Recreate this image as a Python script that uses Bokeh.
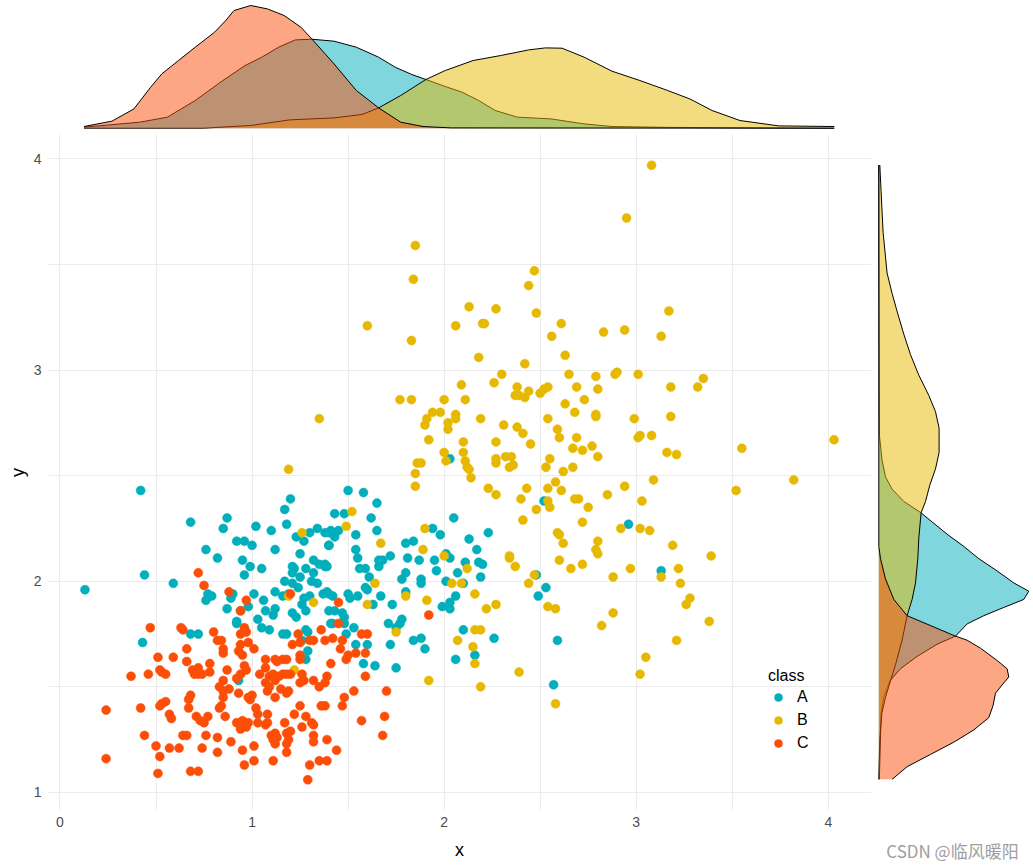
import numpy as np
from bokeh.plotting import figure
from bokeh.layouts import column, row
from bokeh.models import Range1d, FixedTicker, Legend, LegendItem
from bokeh.core.properties import value
from bokeh.embed import file_html
from bokeh.resources import INLINE

# ---------------- data ----------------
classes = ["A", "B", "C"]
colors = {"A": "#00AFBB", "B": "#E7B800", "C": "#FC4E07"}

A_x = [0.42, 1.20, 1.17, 0.87, 0.68, 0.85, 1.02, 1.10, 1.18, 1.30, 1.23, 1.27, 1.34, 1.38, 1.41, 0.92, 0.96, 1.00,
       0.76, 0.82, 0.95, 1.12, 1.25, 1.40, 0.99, 1.05, 0.96, 1.21, 1.22, 1.32, 1.35, 1.38, 1.39, 1.28, 1.32, 1.21,
       1.25, 0.44, 0.59, 1.17, 1.21, 1.31, 1.34, 0.13, 0.43, 0.77, 0.79, 0.76, 0.68, 0.72, 0.89, 0.90, 0.87, 1.01,
       1.06, 1.12, 0.92, 0.92, 0.94, 0.98, 1.03, 1.07, 1.12, 1.11, 1.05, 1.09, 1.16, 1.18, 1.16, 1.19, 1.24, 1.27,
       1.26, 1.30, 1.21, 1.23, 1.28, 1.28, 1.29, 1.26, 1.29, 1.28, 1.37, 1.39, 1.41, 0.93, 1.40,
       2.03, 1.50, 1.58, 1.65, 1.43, 1.48, 1.62, 2.05, 2.23, 2.52, 1.40, 1.43, 1.45, 1.43, 1.54, 1.65, 1.94, 1.98,
       1.40, 1.84, 1.80, 2.13, 2.17, 1.54, 1.55, 1.72, 1.81, 1.87, 1.95, 2.03, 2.01, 2.11, 2.18, 2.20, 1.38, 1.66,
       1.68, 1.66, 1.56, 1.59, 1.96, 2.07, 2.19, 1.61, 1.80, 1.78, 1.88, 1.88, 2.01, 2.10, 2.48, 2.96, 3.13,
       1.40, 1.42, 1.50, 1.51, 1.55, 1.59, 1.60, 1.67, 1.63, 1.73, 1.80, 1.43, 1.47, 1.48, 1.42, 1.48, 1.53, 1.49,
       1.71, 1.78, 1.77, 1.75, 1.54, 1.60, 1.72, 1.84, 1.88, 1.90, 1.58, 1.64, 1.75, 1.99, 2.03, 2.03, 2.06, 2.10,
       2.06, 2.16, 2.26, 2.49, 2.53, 2.59, 2.57]
A_y = [2.43, 2.39, 2.34, 2.30, 2.28, 2.25, 2.26, 2.24, 2.27, 2.23, 2.21, 2.19, 2.25, 2.23, 2.24, 2.19, 2.19, 2.17,
       2.15, 2.11, 2.10, 2.15, 2.13, 2.17, 2.07, 2.06, 2.03, 2.07, 2.06, 2.10, 2.08, 2.08, 2.07, 2.06, 2.04, 2.04,
       2.02, 2.03, 1.99, 2.00, 1.99, 2.00, 1.99, 1.96, 1.71, 1.94, 1.93, 1.91, 1.75, 1.75, 1.92, 1.94, 1.87, 1.94,
       1.91, 1.95, 1.81, 1.80, 1.86, 1.88, 1.82, 1.86, 1.87, 1.84, 1.78, 1.77, 1.75, 1.75, 1.93, 1.94, 1.97, 1.92,
       1.89, 1.93, 1.85, 1.83, 1.86, 1.77, 1.76, 1.72, 1.67, 1.63, 1.94, 1.95, 1.80, 1.53, 1.86,
       2.58, 2.43, 2.42, 2.37, 2.32, 2.32, 2.30, 2.30, 2.23, 2.38, 2.23, 2.23, 2.24, 2.21, 2.22, 2.24, 2.25, 2.22,
       2.17, 2.19, 2.18, 2.20, 2.15, 2.15, 2.11, 2.12, 2.11, 2.10, 2.10, 2.11, 2.13, 2.09, 2.09, 2.08, 2.07, 2.10,
       2.10, 2.07, 2.06, 2.06, 2.05, 2.04, 2.02, 2.02, 2.04, 2.01, 2.01, 1.99, 2.00, 1.99, 2.03, 2.27, 2.05,
       1.94, 1.93, 1.94, 1.92, 1.93, 1.97, 1.96, 1.93, 1.89, 1.89, 1.95, 1.86, 1.85, 1.83, 1.80, 1.80, 1.78, 1.75,
       1.80, 1.82, 1.80, 1.78, 1.70, 1.70, 1.70, 1.72, 1.73, 1.68, 1.61, 1.60, 1.59, 1.88, 1.87, 1.90, 1.93, 1.77,
       1.63, 1.65, 1.73, 1.93, 1.97, 1.72, 1.51]

B_x = [1.85, 1.84, 1.60, 1.83, 2.47, 2.44, 2.13, 2.27, 2.48, 2.06, 2.20, 2.21, 2.61, 2.56, 2.63, 2.18, 2.42, 3.08,
       2.95, 3.17, 2.83, 2.94, 3.13, 1.35, 1.19, 1.26, 2.30, 2.26, 2.09, 2.38, 2.44, 2.37, 2.39, 2.42, 2.50, 2.52,
       2.54, 2.65, 2.69, 2.79, 2.80, 1.77, 1.83, 2.00, 2.11, 2.63, 2.73, 2.68, 2.79, 2.79, 1.94, 1.98, 1.91, 1.90,
       2.06, 2.06, 2.02, 2.02, 2.19, 2.31, 2.38, 2.41, 2.54, 2.59, 2.60, 2.69, 2.67, 2.72, 2.77, 2.80, 2.45, 2.27,
       1.92, 2.10, 2.00, 2.10, 2.01, 2.11, 2.12, 2.13, 2.14, 2.27, 2.27, 2.32, 2.35, 2.34, 2.36, 2.55, 2.53, 2.62,
       2.67, 1.86, 1.88, 1.85, 1.85, 2.23, 2.27, 2.43, 2.40, 2.54, 2.58, 2.61, 2.54, 2.55, 2.48, 2.68, 2.70, 2.75,
       2.41, 2.72, 2.59, 2.60, 2.62, 2.60, 2.66, 2.72, 2.79, 2.80, 2.80, 2.34, 2.34, 2.37, 2.47, 2.44, 1.52, 1.49,
       1.90, 1.67, 1.89, 2.00, 2.12, 1.64, 2.04, 2.09, 2.89, 2.90, 3.01, 3.18, 3.32, 3.35, 2.99, 3.18, 3.02, 3.01,
       3.08, 3.16, 3.21, 3.55, 4.03, 3.09, 2.94, 2.85, 3.03, 3.52, 3.82, 2.92, 3.02, 3.07, 3.19, 3.39, 2.97, 2.88,
       3.22, 3.13, 3.23, 3.28, 3.26, 2.88, 2.82, 3.38, 3.21, 3.05, 3.02, 1.80, 1.60, 1.91, 2.16, 2.22, 2.27, 2.54,
       2.58, 1.75, 2.07, 2.16, 2.19, 2.15, 2.16, 2.39, 1.92, 2.19, 2.58, 1.22, 1.32, 1.19]
B_y = [3.59, 3.43, 3.21, 3.14, 3.47, 3.40, 3.30, 3.29, 3.27, 3.21, 3.22, 3.22, 3.22, 3.16, 3.07, 3.06, 3.03, 3.97,
       3.72, 3.28, 3.18, 3.19, 3.16, 2.77, 2.53, 2.23, 2.98, 2.94, 2.93, 2.92, 2.90, 2.88, 2.88, 2.87, 2.89, 2.91,
       2.92, 2.98, 2.92, 2.97, 2.91, 2.86, 2.86, 2.86, 2.86, 2.84, 2.86, 2.80, 2.79, 2.78, 2.80, 2.80, 2.77, 2.74,
       2.79, 2.77, 2.75, 2.72, 2.77, 2.74, 2.73, 2.70, 2.77, 2.72, 2.68, 2.68, 2.63, 2.62, 2.64, 2.59, 2.65, 2.66,
       2.67, 2.66, 2.61, 2.61, 2.57, 2.57, 2.54, 2.53, 2.49, 2.58, 2.56, 2.59, 2.59, 2.54, 2.55, 2.58, 2.54, 2.52,
       2.54, 2.56, 2.56, 2.51, 2.45, 2.44, 2.41, 2.44, 2.39, 2.44, 2.47, 2.43, 2.38, 2.35, 2.34, 2.39, 2.39, 2.35,
       2.29, 2.28, 2.23, 2.22, 2.18, 2.10, 2.06, 2.08, 2.15, 2.13, 2.19, 2.11, 2.12, 2.07, 2.03, 1.99, 2.33, 2.26,
       2.25, 2.18, 2.15, 2.12, 2.06, 1.99, 1.99, 1.99, 2.98, 2.99, 2.98, 2.92, 2.92, 2.96, 2.77, 2.78, 2.69, 2.68,
       2.69, 2.61, 2.60, 2.63, 2.67, 2.48, 2.45, 2.41, 2.38, 2.43, 2.48, 2.25, 2.25, 2.24, 2.17, 2.12, 2.06, 2.02,
       2.06, 2.02, 1.99, 1.92, 1.89, 1.85, 1.79, 1.81, 1.72, 1.64, 1.56, 1.93, 1.89, 1.91, 1.94, 1.87, 1.89, 1.88,
       1.87, 1.76, 1.72, 1.77, 1.77, 1.69, 1.61, 1.57, 1.53, 1.50, 1.42, 1.58, 1.90, 1.93]

C_x = [0.72, 0.75, 0.88, 0.97, 0.94, 1.20, 0.47, 0.63, 0.64, 0.80, 0.82, 0.84, 0.96, 0.94, 0.97, 0.98, 0.66, 0.51,
       0.59, 0.66, 0.78, 0.85, 0.85, 0.94, 0.93, 0.95, 1.01, 1.07, 0.52, 0.53, 0.55, 0.46, 0.37, 0.69, 0.72, 0.72,
       0.70, 0.74, 0.78, 0.87, 0.96, 0.97, 0.94, 0.92, 1.04, 1.07, 1.09, 1.11, 1.12, 1.14, 1.16, 1.12, 1.13, 1.16,
       1.18, 1.18, 1.20, 1.07, 1.09, 1.08, 1.15, 1.18, 1.19, 1.21, 1.25, 1.24, 1.25, 1.25, 1.26, 1.27, 1.25, 1.30,
       1.32, 1.36, 1.38, 1.41, 1.32, 1.35, 1.39, 1.38, 0.85, 0.83, 0.85, 0.88, 0.93, 0.85, 0.68, 0.67, 0.53, 0.55,
       0.52, 0.42, 0.24, 0.67, 0.83, 0.84, 0.57, 0.58, 0.71, 0.73, 0.75, 0.77, 0.86, 0.92, 0.95, 0.98, 0.94, 0.97,
       0.99, 1.00, 0.98, 1.02, 1.03, 1.03, 1.08, 1.08, 1.07, 1.12, 1.17, 1.22, 1.25, 1.26, 1.28, 1.31, 1.32, 1.32,
       1.32, 1.36, 1.38, 1.39, 1.10, 1.12, 1.11, 1.12, 1.13, 1.18, 1.20, 1.19, 1.18, 1.18, 1.11, 1.01, 1.01, 0.95,
       0.96, 0.89, 0.82, 0.82, 0.76, 0.74, 0.64, 0.66, 0.57, 0.62, 0.50, 0.52, 0.44, 0.24, 0.51, 0.68, 0.72, 1.29,
       1.30, 1.35, 1.39, 1.45, 1.92, 1.45, 1.57, 1.60, 1.42, 1.47, 1.46, 1.50, 1.54, 1.59, 1.49, 1.59, 1.53, 1.70,
       1.48, 1.47, 1.69, 1.57, 1.68, 1.44]
C_y = [2.04, 1.98, 1.95, 1.91, 1.86, 1.94, 1.78, 1.78, 1.77, 1.76, 1.72, 1.72, 1.78, 1.75, 1.76, 1.71, 1.68, 1.64,
       1.64, 1.62, 1.61, 1.68, 1.66, 1.70, 1.67, 1.65, 1.68, 1.63, 1.58, 1.57, 1.56, 1.56, 1.55, 1.58, 1.59, 1.56,
       1.56, 1.56, 1.57, 1.58, 1.60, 1.58, 1.56, 1.54, 1.56, 1.59, 1.55, 1.56, 1.53, 1.55, 1.56, 1.63, 1.62, 1.63,
       1.63, 1.56, 1.56, 1.52, 1.50, 1.48, 1.49, 1.47, 1.48, 1.70, 1.71, 1.75, 1.65, 1.63, 1.56, 1.53, 1.52, 1.72,
       1.72, 1.77, 1.72, 1.61, 1.53, 1.50, 1.55, 1.52, 1.53, 1.50, 1.48, 1.49, 1.47, 1.45, 1.46, 1.44, 1.42, 1.43,
       1.41, 1.40, 1.39, 1.40, 1.40, 1.41, 1.37, 1.35, 1.36, 1.34, 1.33, 1.36, 1.36, 1.33, 1.34, 1.33, 1.30, 1.31,
       1.44, 1.46, 1.45, 1.40, 1.37, 1.33, 1.37, 1.33, 1.32, 1.45, 1.33, 1.37, 1.41, 1.31, 1.36, 1.33, 1.32, 1.27,
       1.24, 1.41, 1.41, 1.25, 1.27, 1.28, 1.25, 1.23, 1.26, 1.28, 1.29, 1.25, 1.23, 1.19, 1.15, 1.22, 1.15, 1.20,
       1.13, 1.24, 1.26, 1.19, 1.27, 1.21, 1.27, 1.27, 1.21, 1.21, 1.22, 1.17, 1.27, 1.16, 1.09, 1.10, 1.10, 1.06,
       1.13, 1.15, 1.15, 1.90, 1.84, 1.80, 1.75, 1.75, 1.73, 1.72, 1.68, 1.65, 1.66, 1.66, 1.63, 1.55, 1.48, 1.48,
       1.45, 1.41, 1.36, 1.34, 1.27, 1.20]

# marginal densities
dx_A_x = [0.125, 0.415, 0.559, 0.704, 0.848, 0.964, 1.051, 1.138, 1.225, 1.311, 1.427, 1.543, 1.659, 1.745, 1.832,
          1.905, 2.006, 2.093, 2.180, 2.266, 2.382, 2.556, 2.729, 2.874, 3.164, 4.031]
dx_A_d = [0.010, 0.060, 0.110, 0.277, 0.477, 0.627, 0.710, 0.810, 0.883, 0.890, 0.870, 0.810, 0.710, 0.610, 0.537,
          0.487, 0.417, 0.360, 0.277, 0.177, 0.110, 0.093, 0.043, 0.017, 0.008, 0.0]
dx_B_x = [0.125, 0.747, 0.993, 1.196, 1.427, 1.572, 1.659, 1.774, 1.905, 2.006, 2.151, 2.295, 2.440, 2.527, 2.614,
          2.729, 2.874, 3.019, 3.164, 3.279, 3.395, 3.540, 3.742, 4.031]
dx_B_d = [0.0, 0.0, 0.027, 0.083, 0.103, 0.137, 0.203, 0.327, 0.487, 0.577, 0.677, 0.727, 0.783, 0.803, 0.800,
          0.710, 0.570, 0.477, 0.377, 0.293, 0.177, 0.077, 0.023, 0.017]
dx_C_x = [0.125, 0.270, 0.385, 0.472, 0.530, 0.617, 0.704, 0.805, 0.863, 0.906, 0.993, 1.080, 1.167, 1.254, 1.311,
          1.427, 1.543, 1.659, 1.774, 1.890, 2.035, 4.031]
dx_C_d = [0.017, 0.070, 0.193, 0.410, 0.543, 0.677, 0.810, 0.960, 1.077, 1.177, 1.227, 1.193, 1.127, 1.010, 0.893,
          0.643, 0.377, 0.203, 0.060, 0.017, 0.003, 0.0]

dy_A_y = [3.971, 2.687, 2.571, 2.494, 2.436, 2.378, 2.324, 2.281, 2.223, 2.165, 2.107, 2.049, 1.992, 1.953, 1.914,
          1.876, 1.837, 1.798, 1.740, 1.702, 1.644, 1.586, 1.528, 1.451, 1.374, 1.142, 1.062]
dy_A_d = [0.0, 0.007, 0.033, 0.067, 0.133, 0.250, 0.423, 0.533, 0.683, 0.850, 1.000, 1.183, 1.350, 1.500, 1.450,
          1.250, 1.050, 0.883, 0.767, 0.583, 0.383, 0.217, 0.110, 0.050, 0.023, 0.010, 0.005]
dy_B_y = [3.971, 3.845, 3.652, 3.459, 3.363, 3.266, 3.170, 3.073, 2.976, 2.880, 2.803, 2.725, 2.610, 2.532, 2.455,
          2.378, 2.324, 2.204, 2.107, 1.992, 1.914, 1.837, 1.721, 1.605, 1.528, 1.451, 1.374, 1.250, 1.062]
dy_B_d = [0.010, 0.023, 0.043, 0.083, 0.133, 0.190, 0.250, 0.317, 0.400, 0.500, 0.567, 0.603, 0.603, 0.567, 0.510,
          0.467, 0.423, 0.400, 0.390, 0.367, 0.333, 0.283, 0.233, 0.167, 0.117, 0.067, 0.030, 0.010, 0.0]
dy_C_y = [3.971, 2.165, 2.107, 2.011, 1.914, 1.837, 1.740, 1.721, 1.683, 1.625, 1.586, 1.547, 1.509, 1.470, 1.412,
          1.354, 1.296, 1.238, 1.180, 1.122, 1.062]
dy_C_d = [0.0, 0.0, 0.017, 0.067, 0.150, 0.283, 0.767, 0.883, 1.017, 1.183, 1.283, 1.300, 1.233, 1.167, 1.143,
          1.100, 0.950, 0.750, 0.517, 0.283, 0.133]

x_ticks = [0, 1, 2, 3, 4]
x_minor = [0.5, 1.5, 2.5, 3.5]
y_ticks = [1, 2, 3, 4]
y_minor = [1.5, 2.5, 3.5]
legend_title = "class"
x_label = "x"
y_label = "y"
watermark = "CSDN @临风暖阳"

# ---------------- layout constants (page origin is 0,0) ----------------
LEFT = 47
FRAME_W = 824
FRAME_H = 676
BOTTOM = 49
TOP_H = 134
TOP_BASE = 6.3      # px between top-marginal baseline and its frame bottom
RIGHT_W = 162
RIGHT_BASE = 7.3    # px between right-marginal baseline and its frame left
DENS_PX = 100.0     # px per density unit in both marginals
FONT = "Liberation Sans"
GRID = "#EBEBEB"

pts = {"A": (A_x, A_y), "B": (B_x, B_y), "C": (C_x, C_y)}
all_x = A_x + B_x + C_x
all_y = A_y + B_y + C_y
xpad = 0.05 * (max(all_x) - min(all_x))
ypad = 0.05 * (max(all_y) - min(all_y))
x_range = Range1d(min(all_x) - xpad, max(all_x) + xpad)
y_range = Range1d(min(all_y) - ypad, max(all_y) + ypad)

# ---------------- main scatter ----------------
p = figure(frame_width=FRAME_W, frame_height=FRAME_H, x_range=x_range, y_range=y_range,
           output_backend="svg", toolbar_location=None,
           min_border_left=LEFT, min_border_right=0, min_border_top=0, min_border_bottom=BOTTOM)
p.outline_line_color = None
p.background_fill_color = "white"
p.xaxis.ticker = FixedTicker(ticks=x_ticks, minor_ticks=x_minor)
p.yaxis.ticker = FixedTicker(ticks=y_ticks, minor_ticks=y_minor)
for ax in (p.xaxis[0], p.yaxis[0]):
    ax.axis_line_color = None
    ax.major_tick_line_color = None
    ax.minor_tick_line_color = None
    ax.major_tick_out = 0
    ax.major_tick_in = 0
    ax.minor_tick_out = 0
    ax.major_label_text_font = FONT
    ax.major_label_text_font_size = "14px"
    ax.major_label_text_color = "#4D4D4D"
    ax.axis_label_text_font = FONT
    ax.axis_label_text_font_size = "18px"
    ax.axis_label_text_font_style = "normal"
    ax.axis_label_text_color = "black"
    ax.major_label_standoff = 6
p.xaxis.axis_label = x_label
p.yaxis.axis_label = y_label
p.xaxis.axis_label_standoff = 10
p.yaxis.axis_label_standoff = 3
p.grid.grid_line_color = GRID
p.grid.grid_line_width = 1
p.grid.minor_grid_line_color = GRID
p.grid.minor_grid_line_width = 1

renderers = {}
for c in classes:
    xs, ys = pts[c]
    renderers[c] = p.scatter(xs, ys, size=9, fill_color=colors[c], line_color=colors[c], line_width=0.5)

legend = Legend(items=[LegendItem(label=c, renderers=[renderers[c]]) for c in classes],
                title=legend_title, location=(721, 57), padding=0, margin=0, spacing=3,
                glyph_width=20, glyph_height=20, label_height=20, label_standoff=9,
                title_standoff=2, background_fill_alpha=0, border_line_alpha=0,
                label_text_font=FONT, label_text_font_size="16px", label_text_color="black",
                title_text_font=FONT, title_text_font_size="16px", title_text_font_style="normal",
                title_text_color="black")
p.add_layout(legend)

# ---------------- top marginal (x density) ----------------
t_lo = -TOP_BASE / DENS_PX
top = figure(frame_width=FRAME_W, frame_height=TOP_H, x_range=x_range,
             y_range=Range1d(t_lo, t_lo + TOP_H / DENS_PX),
             output_backend="svg", toolbar_location=None,
             x_axis_location=None, y_axis_location=None,
             min_border_left=LEFT, min_border_right=0, min_border_top=0, min_border_bottom=0)
top.outline_line_color = None
top.grid.visible = False
for xs, ds, c in [(dx_A_x, dx_A_d, "A"), (dx_B_x, dx_B_d, "B"), (dx_C_x, dx_C_d, "C")]:
    top.varea(x=xs, y1=0, y2=ds, fill_color=colors[c], fill_alpha=0.5)
    top.line(xs, ds, line_color="black", line_width=1)

# ---------------- right marginal (y density) ----------------
r_lo = -RIGHT_BASE / DENS_PX
right = figure(frame_width=RIGHT_W, frame_height=FRAME_H,
               x_range=Range1d(r_lo, r_lo + RIGHT_W / DENS_PX), y_range=y_range,
               output_backend="svg", toolbar_location=None,
               x_axis_location="below", y_axis_location=None,
               min_border_left=0, min_border_right=0, min_border_top=0, min_border_bottom=BOTTOM)
right.outline_line_color = None
right.grid.visible = False
for ys, ds, c in [(dy_A_y, dy_A_d, "A"), (dy_B_y, dy_B_d, "B"), (dy_C_y, dy_C_d, "C")]:
    right.harea(y=ys, x1=0, x2=ds, fill_color=colors[c], fill_alpha=0.5)
    right.line(ds, ys, line_color="black", line_width=1)

# watermark text in the bottom-right corner (as the empty axis' label)
wax = right.xaxis[0]
wax.ticker = FixedTicker(ticks=[])
wax.axis_line_color = None
wax.major_tick_line_color = None
wax.minor_tick_line_color = None
wax.major_tick_out = 0
wax.minor_tick_out = 0
wax.major_label_standoff = 0
wax.major_label_text_font_size = "1px"
wax.axis_label = watermark
wax.axis_label_text_font = "Noto Sans CJK SC"
wax.axis_label_text_font_size = "17px"
wax.axis_label_text_font_style = "normal"
wax.axis_label_text_color = "#9E9E9E"
wax.axis_label_standoff = 27

layout = column(top, row(p, right, spacing=0), spacing=0)

open("out.html", "w").write(file_html(layout, INLINE))
